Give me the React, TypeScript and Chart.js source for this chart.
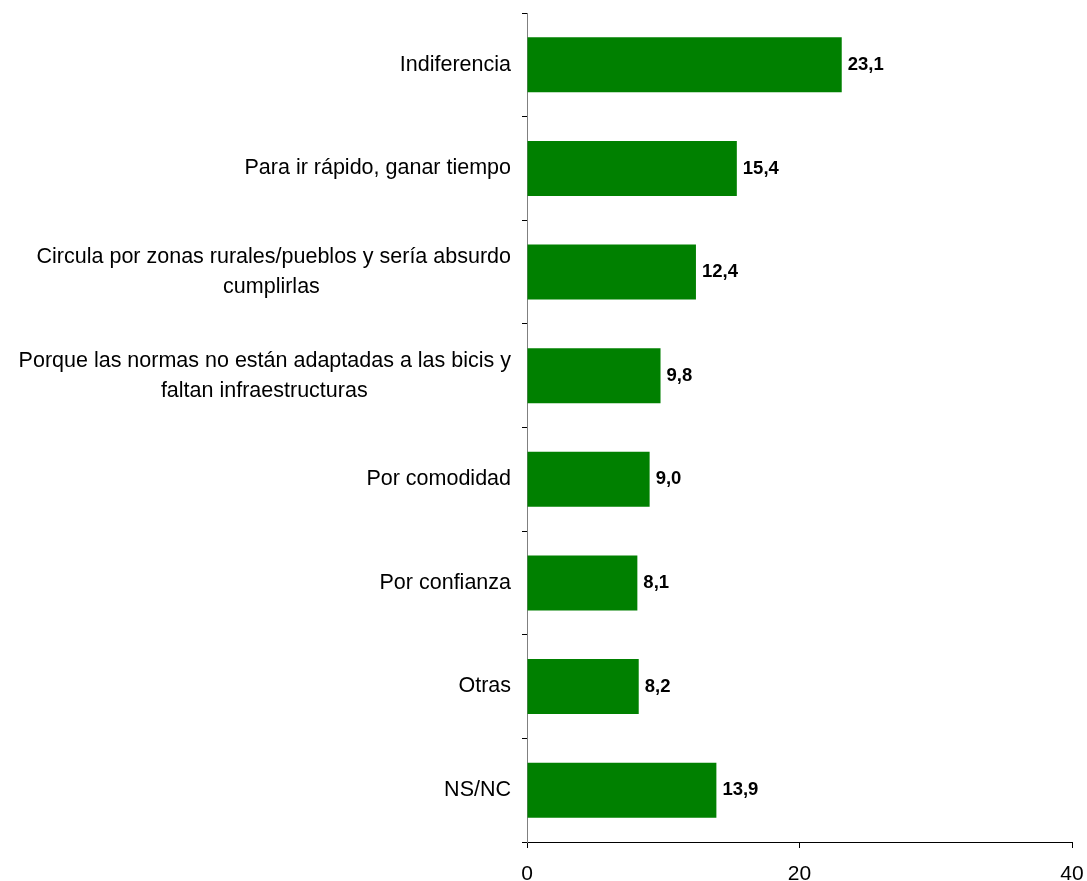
import React, { useEffect, useRef } from "react";
import { Chart, registerables } from "chart.js";

Chart.register(...registerables);

const categories: (string | string[])[] = [
  "Indiferencia",
  "Para ir rápido, ganar tiempo",
  ["Circula por zonas rurales/pueblos y sería absurdo", "cumplirlas"],
  ["Porque las normas no están adaptadas a las bicis y", "faltan infraestructuras"],
  "Por comodidad",
  "Por confianza",
  "Otras",
  "NS/NC",
];

const values: number[] = [23.1, 15.4, 12.4, 9.8, 9.0, 8.1, 8.2, 13.9];

const xTicks: number[] = [0, 20, 40];

const FONT_FAMILY = '"Liberation Sans", Arial, Helvetica, sans-serif';
const LABEL_SIZE = 21.5;
const AXIS_SIZE = 21;
const VALUE_SIZE = 18.5;

function formatValue(v: number): string {
  return v.toFixed(1).replace(".", ",");
}

// Pads shorter lines of a multi-line label with trailing spaces so that,
// when right-aligned, each line appears centred under the widest line.
function centerLines(label: string | string[]): string | string[] {
  if (!Array.isArray(label)) return label;
  const c = document.createElement("canvas").getContext("2d");
  if (!c) return label;
  c.font = `${LABEL_SIZE}px ${FONT_FAMILY}`;
  const widths = label.map((l) => c.measureText(l).width);
  const maxW = Math.max(...widths);
  const spaceW = c.measureText(" ").width || 1;
  return label.map((l, i) => {
    const n = Math.round((maxW - widths[i]) / 2 / spaceW);
    return l + " ".repeat(n);
  });
}

const valueLabelPlugin = {
  id: "valueLabels",
  afterDatasetsDraw(chart: any) {
    const ctx = chart.ctx;
    const meta = chart.getDatasetMeta(0);
    ctx.save();
    ctx.font = `bold ${VALUE_SIZE}px ${FONT_FAMILY}`;
    ctx.fillStyle = "#000000";
    ctx.textAlign = "left";
    ctx.textBaseline = "middle";
    meta.data.forEach((bar: any, i: number) => {
      const v = chart.data.datasets[0].data[i] as number;
      ctx.fillText(formatValue(v), bar.x + 6, bar.y);
    });
    ctx.restore();
  },
};

export default function App() {
  const canvasRef = useRef<HTMLCanvasElement | null>(null);

  useEffect(() => {
    if (!canvasRef.current) return;
    const chart = new Chart(canvasRef.current, {
      type: "bar",
      data: {
        labels: categories.map(centerLines),
        datasets: [
          {
            data: values,
            backgroundColor: "#008000",
            borderWidth: 0,
            barPercentage: 0.53,
            categoryPercentage: 1,
          },
        ],
      },
      options: {
        indexAxis: "y",
        animation: false,
        responsive: false,
        maintainAspectRatio: false,
        layout: { padding: { top: 13, right: 15, left: 0, bottom: 0 } },
        plugins: {
          legend: { display: false },
          tooltip: { enabled: false },
          title: { display: false },
        },
        scales: {
          x: {
            type: "linear",
            min: 0,
            max: 40,
            afterBuildTicks: (scale: any) => {
              scale.ticks = xTicks.map((v) => ({ value: v }));
            },
            afterFit: (scale: any) => {
              scale.height = 39;
              scale.paddingLeft = 0;
              scale.paddingRight = 0;
            },
            grid: {
              drawOnChartArea: false,
              drawTicks: true,
              tickLength: 6,
              color: "#000000",
              lineWidth: 1,
            },
            border: { display: true, color: "#000000", width: 1 },
            ticks: {
              color: "#000000",
              font: { family: FONT_FAMILY, size: AXIS_SIZE },
              padding: 14,
              maxRotation: 0,
              autoSkip: false,
            },
          },
          y: {
            type: "category",
            afterFit: (scale: any) => {
              scale.width = 527;
              scale.paddingTop = 0;
              scale.paddingBottom = 0;
            },
            grid: {
              drawOnChartArea: false,
              drawTicks: true,
              tickLength: 5,
              offset: true,
              color: "#000000",
              lineWidth: 1,
            },
            border: { display: true, color: "#808080", width: 1 },
            ticks: {
              color: "#000000",
              font: { family: FONT_FAMILY, size: LABEL_SIZE, lineHeight: 1.4 },
              padding: 11,
              autoSkip: false,
            },
          },
        },
      },
      plugins: [valueLabelPlugin],
    });
    return () => chart.destroy();
  }, []);

  return (
    <div
      style={{
        position: "absolute",
        left: 0,
        top: 0,
        width: 1087,
        height: 881,
        background: "#ffffff",
      }}
    >
      <canvas ref={canvasRef} width={1087} height={881} style={{ width: 1087, height: 881 }} />
    </div>
  );
}
